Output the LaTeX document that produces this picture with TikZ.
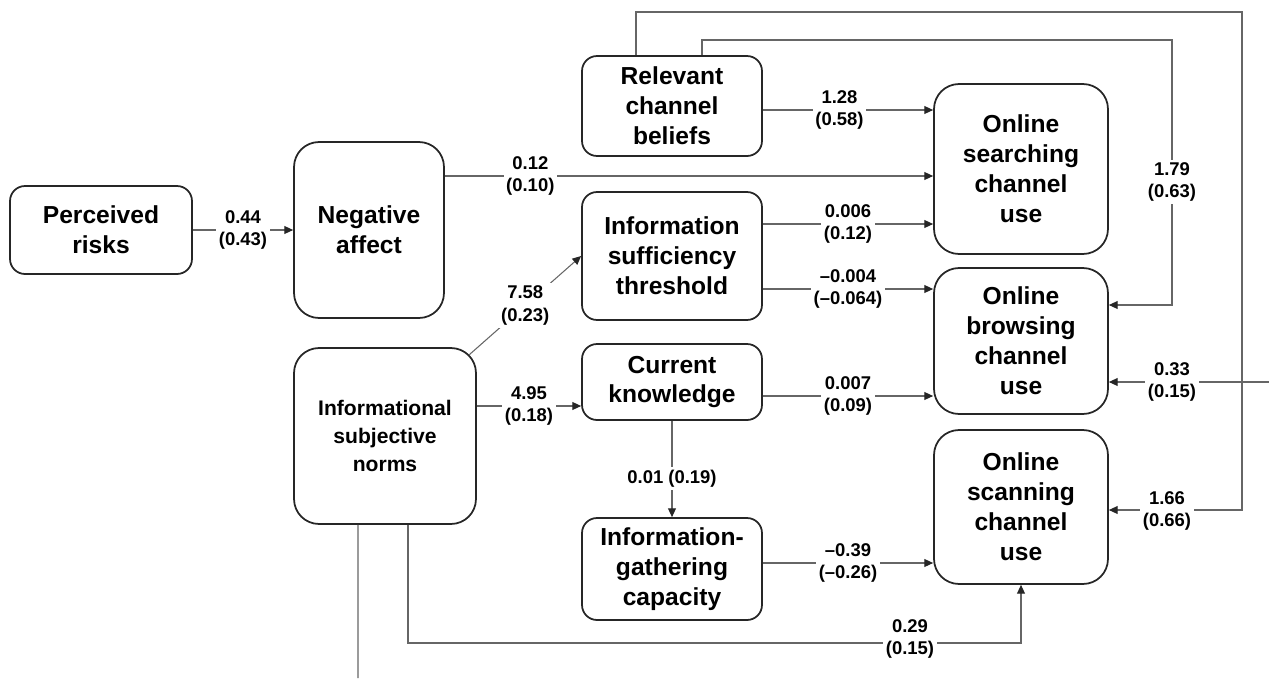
\documentclass[tikz,border=0pt]{standalone}
\usepackage{fontspec}
\setmainfont{Liberation Sans}
\usetikzlibrary{arrows.meta}
\begin{document}
\begin{tikzpicture}
        [x=0.02cm, y=-0.02cm,
        box/.style={draw=black!85, line width=1pt, rounded corners=0.3cm, align=center, inner sep=2pt, font=\bfseries\fontsize{14}{17}\selectfont},
        bigbox/.style={box, rounded corners=0.5cm},
        conn/.style={draw=black!60, line width=0.6pt},
        arr/.style={conn, -{Triangle[length=5pt, width=4.5pt, color=black!85]}},
        coef/.style={fill=white, inner sep=1.5pt, align=center, font=\bfseries\fontsize{10.5}{13}\selectfont}]
        \useasboundingbox (0,0) rectangle (1269,680);
        \node[box, minimum width=3.64cm, minimum height=1.76cm] (risks) at (101,230) {Perceived\\risks};
        \node[bigbox, minimum width=3.0cm, minimum height=3.52cm] (affect) at (369,230) {Negative\\affect};
        \node[bigbox, minimum width=3.64cm, minimum height=3.52cm, font=\bfseries\fontsize{12}{16}\selectfont] (norms) at (385,436) {Informational\\subjective\\norms};
        \node[box, minimum width=3.6cm, minimum height=2.0cm] (beliefs) at (672,106) {Relevant\\channel\\beliefs};
        \node[box, minimum width=3.6cm, minimum height=2.56cm] (threshold) at (672,256) {Information\\sufficiency\\threshold};
        \node[box, minimum width=3.6cm, minimum height=1.52cm] (knowledge) at (672,382) {Current\\knowledge};
        \node[box, minimum width=3.6cm, minimum height=2.04cm] (capacity) at (672,569) {Information-\\gathering\\capacity};
        \node[bigbox, minimum width=3.48cm, minimum height=3.4cm] (searching) at (1021,169) {Online\\searching\\channel\\use};
        \node[bigbox, minimum width=3.48cm, minimum height=2.92cm] (browsing) at (1021,341) {Online\\browsing\\channel\\use};
        \node[bigbox, minimum width=3.48cm, minimum height=3.08cm] (scanning) at (1021,507) {Online\\scanning\\channel\\use};

        % free ends
        \coordinate (normsout) at (358,678);
        \coordinate (browsein) at (1269,382);

        \draw[arr] (risks) -- node[coef] {0.44\\(0.43)} (affect);
        \draw[arr] (affect.east |- 0,176) -- node[coef, pos=0.175] {0.12\\(0.10)} (searching.west |- 0,176);
        \draw[arr] (beliefs.east |- 0,110) -- node[coef, pos=0.45] {1.28\\(0.58)} (searching.west |- 0,110);
        \draw[arr] (threshold.east |- 0,224) -- node[coef] {0.006\\(0.12)} (searching.west |- 0,224);
        \draw[arr] (threshold.east |- 0,289) -- node[coef] {–0.004\\(–0.064)} (browsing.west |- 0,289);
        \draw[arr] ([shift={(-0.15cm,-0.15cm)}]norms.north east) -- node[coef] {7.58\\(0.23)} (threshold.west);
        \draw[arr] (norms.east |- 0,406) -- node[coef] {4.95\\(0.18)} (knowledge.west |- 0,406);
        \draw[arr] (knowledge.east |- 0,396) -- node[coef] {0.007\\(0.09)} (browsing.west |- 0,396);
        \draw[arr] (knowledge) -- node[coef, pos=0.6] {0.01 (0.19)} (capacity);
        \draw[arr] (capacity.east |- 0,563) -- node[coef] {–0.39\\(–0.26)} (scanning.west |- 0,563);

        \draw[arr] ([xshift=0.46cm]norms.south) |- (scanning.south |- 0,643) -- (scanning.south);
        \draw[conn] ([xshift=-0.54cm]norms.south) -- (normsout);
        \draw[arr] ([xshift=-0.72cm]beliefs.north) |- (1242,12) |- (scanning.east |- 0,510);
        \draw[arr] ([xshift=0.6cm]beliefs.north) |- (1172,40) |- (browsing.east |- 0,305);
        \draw[arr] (browsein) -- (browsing.east |- browsein);

        \node[coef] (c029) at (910,639) {0.29\\(0.15)};
        \node[coef] (c166) at (1167,511) {1.66\\(0.66)};
        \node[coef] (c179) at (1172,182) {1.79\\(0.63)};
        \node[coef] (c033) at (1172,382) {0.33\\(0.15)};
    \end{tikzpicture}
\end{document}
